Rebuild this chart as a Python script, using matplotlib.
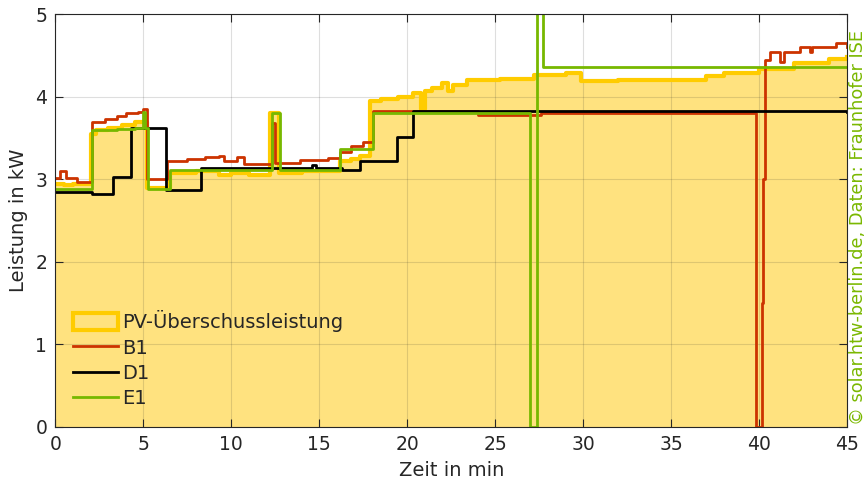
import matplotlib
matplotlib.use("Agg")
import matplotlib.pyplot as plt
from matplotlib.patches import Patch
from matplotlib.lines import Line2D

# ---- data (minutes, kW) ----
pv_t = [0, 0.5, 1.0, 2.0, 2.3, 3.0, 3.8, 4.5, 5.2, 6.5, 8.0, 9.3, 10.0, 11.0,
        12.2, 12.7, 14.0, 16.2, 16.8, 17.3, 17.9, 18.5, 19.5, 20.3, 20.8, 21.0,
        21.4, 22.0, 22.3, 22.6, 23.4, 25.3, 27.2, 29.0, 29.9, 32.0, 35.0, 37.0,
        38.0, 40.0, 42.0, 44.0, 45.0]
pv_kw = [2.95, 2.93, 2.95, 3.55, 3.60, 3.62, 3.66, 3.70, 2.90, 3.08, 3.10, 3.05,
         3.08, 3.05, 3.80, 3.08, 3.10, 3.22, 3.25, 3.28, 3.95, 3.97, 4.00, 4.05,
         3.86, 4.07, 4.11, 4.17, 4.07, 4.15, 4.20, 4.22, 4.27, 4.29, 4.19, 4.20,
         4.21, 4.25, 4.29, 4.34, 4.41, 4.46, 4.48]

b1_t = [0, 0.25, 0.6, 1.2, 2.05, 2.8, 3.5, 4.0, 4.7, 5.0, 5.2, 6.35, 7.5, 8.5,
        9.3, 9.6, 10.3, 10.7, 12.3, 12.5, 13.9, 15.5, 16.2, 16.8, 17.5, 18.05,
        24.0, 27.6, 39.85, 40.15, 40.25, 40.35, 40.6, 41.2, 41.4, 42.3, 42.9,
        43.0, 44.4, 45.0]
b1_kw = [3.02, 3.10, 3.02, 2.97, 3.70, 3.73, 3.77, 3.80, 3.82, 3.85, 3.00, 3.22,
         3.25, 3.27, 3.29, 3.22, 3.27, 3.19, 3.69, 3.20, 3.24, 3.26, 3.33, 3.40,
         3.45, 3.83, 3.78, 3.80, 0.00, 1.50, 3.00, 4.45, 4.54, 4.43, 4.54, 4.60,
         4.55, 4.60, 4.66, 4.60]

d1_t = [0, 2.1, 3.25, 4.3, 6.3, 8.3, 14.6, 14.8, 16.3, 17.3, 19.4, 20.35, 45.0]
d1_kw = [2.85, 2.83, 3.03, 3.63, 2.87, 3.14, 3.17, 3.14, 3.12, 3.23, 3.52,
         3.83, 3.82]

e1_t = [0, 2.1, 3.5, 4.5, 4.95, 5.1, 5.25, 6.5, 12.3, 12.75, 16.2, 18.05,
        27.0, 27.4, 27.7, 45.0]
e1_kw = [2.89, 3.60, 3.61, 3.62, 3.82, 3.62, 2.89, 3.12, 3.81, 3.12, 3.37,
         3.81, 0.00, 5.60, 4.36, 4.36]

x_ticks = [0, 5, 10, 15, 20, 25, 30, 35, 40, 45]
y_ticks = [0, 1, 2, 3, 4, 5]

# ---- style ----
FILL = "#FFE27F"
GOLD = "#FFCC00"
RED = "#CC3300"
GREEN = "#77B800"
DARK = "#262626"

plt.rcParams["font.family"] = ["DejaVu Sans"]

fig = plt.figure(figsize=(8.68, 4.86), dpi=100)
ax = fig.add_axes([0.0639, 0.1214, 0.9119, 0.8488])

ax.fill_between(pv_t, pv_kw, 0, step="post", color=FILL, lw=0, zorder=1)
ax.step(pv_t, pv_kw, where="post", color=GOLD, lw=3.0, zorder=3)
ax.step(b1_t, b1_kw, where="post", color=RED, lw=2.0, zorder=4)
ax.step(d1_t, d1_kw, where="post", color="black", lw=2.0, zorder=5)
ax.step(e1_t, e1_kw, where="post", color=GREEN, lw=2.0, zorder=6)

ax.set_xlim(0, 45)
ax.set_ylim(0, 5)
ax.set_xticks(x_ticks)
ax.set_yticks(y_ticks)
ax.grid(True, color=DARK, alpha=0.15, lw=0.8, zorder=2)
ax.set_axisbelow(False)
for gl in ax.get_xgridlines() + ax.get_ygridlines():
    gl.set_zorder(2)

ax.tick_params(direction="in", top=True, right=True, length=6, width=0.8,
               colors=DARK, labelsize=13.5, pad=6)
for s in ax.spines.values():
    s.set_color(DARK)
    s.set_linewidth(0.8)
    s.set_zorder(10)

ax.set_xlabel("Zeit in min", fontsize=14, color=DARK, labelpad=5)
ax.set_ylabel("Leistung in kW", fontsize=14, color=DARK, labelpad=5)

handles = [Patch(facecolor=FILL, edgecolor=GOLD, lw=3.0),
           Line2D([], [], color=RED, lw=2.0),
           Line2D([], [], color="black", lw=2.0),
           Line2D([], [], color=GREEN, lw=2.0)]
labels = ["PV-Überschussleistung", "B1", "D1", "E1"]
leg = ax.legend(handles, labels, loc="lower left", bbox_to_anchor=(0.005, 0.012),
                frameon=False, fontsize=14, handlelength=2.3, handleheight=0.9,
                handletextpad=0.2, labelspacing=0.33, borderaxespad=0.3)
for t in leg.get_texts():
    t.set_color(DARK)

fig.text(0.9885, 0.531, "© solar.htw-berlin.de, Daten: Fraunhofer ISE",
         rotation=90, ha="center", va="center", color="#7AB800", fontsize=12.8)

fig.savefig("out.png", dpi=100)
